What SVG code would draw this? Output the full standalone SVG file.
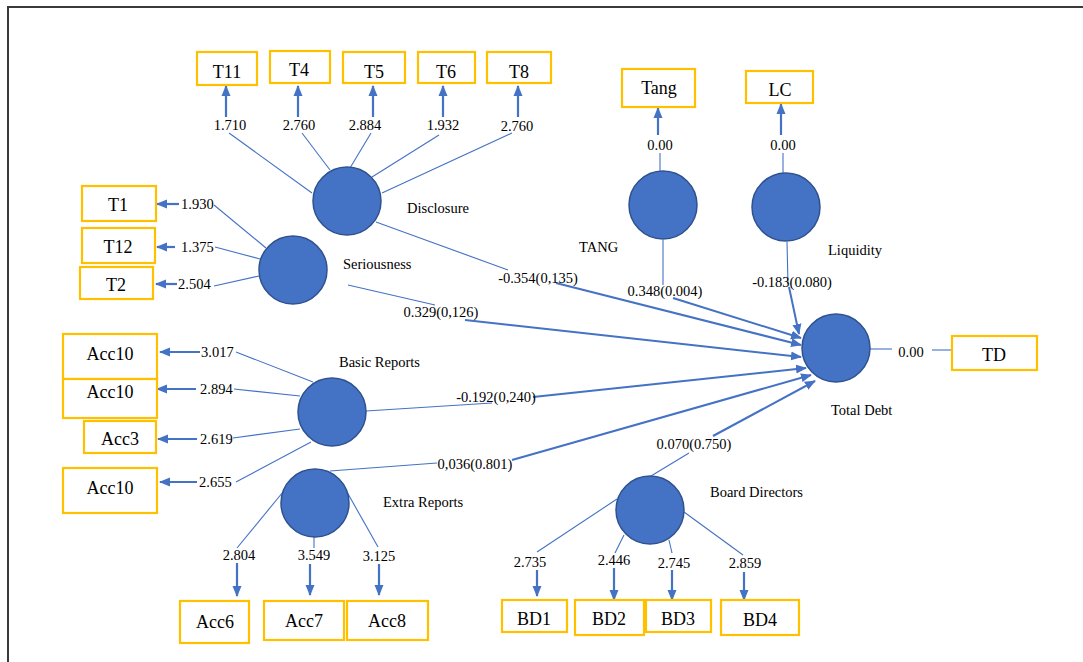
<svg xmlns="http://www.w3.org/2000/svg" width="1083" height="662" viewBox="0 0 1083 662">
<defs>
<marker id="ah" markerUnits="userSpaceOnUse" markerWidth="11" markerHeight="10" refX="10" refY="5" orient="auto">
<path d="M0,0.5 L11,5 L0,9.5 z" fill="#4472C4"/>
</marker>
<style>
.bg{fill:#ffffff}
.frame{stroke:#3a3a3a;stroke-width:2;fill:none}
.lv{fill:#4472C4;stroke:#2F528F;stroke-width:1.5}
.box{fill:#ffffff;stroke:#FFC000;stroke-width:2.2}
.bt{font-family:"Liberation Serif","Times New Roman",serif;font-size:18px;fill:#000;text-anchor:middle}
.nl{font-family:"Liberation Serif","Times New Roman",serif;font-size:14.5px;fill:#000}
.lb{font-family:"Liberation Serif","Times New Roman",serif;font-size:14.5px;fill:#000;text-anchor:middle}
.thin{stroke:#4472C4;stroke-width:1.1;fill:none}
.thick{stroke:#4472C4;stroke-width:2;fill:none;marker-end:url(#ah)}
.ind{stroke:#4472C4;stroke-width:2.2;fill:none;marker-end:url(#ah)}
</style>
</defs>
<rect class="bg" x="0" y="0" width="1083" height="662"/>
<path class="frame" d="M8,662 L8,7 L1083,7"/>

<g id="connectors">
<!-- Disclosure indicators -->
<line class="ind" x1="226" y1="117" x2="226" y2="86"/>
<line class="ind" x1="298" y1="117" x2="298" y2="86"/>
<line class="ind" x1="373" y1="117" x2="373" y2="86"/>
<line class="ind" x1="443" y1="117" x2="443" y2="86"/>
<line class="ind" x1="518" y1="117" x2="518" y2="86"/>
<line class="thin" x1="229" y1="133" x2="312" y2="193"/>
<line class="thin" x1="302" y1="133" x2="330" y2="170"/>
<line class="thin" x1="371" y1="133" x2="350" y2="168"/>
<line class="thin" x1="439" y1="135" x2="372" y2="177"/>
<line class="thin" x1="512" y1="133" x2="382" y2="193"/>
<!-- Seriousness indicators -->
<line class="ind" x1="179" y1="204" x2="157" y2="204"/>
<line class="ind" x1="175" y1="247" x2="157" y2="247"/>
<line class="ind" x1="177" y1="284" x2="156" y2="284"/>
<line class="thin" x1="214" y1="205" x2="266" y2="248"/>
<line class="thin" x1="215" y1="247" x2="260" y2="259"/>
<line class="thin" x1="214" y1="286" x2="259" y2="276"/>
<!-- Basic reports indicators -->
<line class="ind" x1="200" y1="352" x2="160" y2="352"/>
<line class="ind" x1="196" y1="389" x2="157" y2="389"/>
<line class="ind" x1="197" y1="439" x2="158" y2="439"/>
<line class="ind" x1="197" y1="482" x2="160" y2="482"/>
<line class="thin" x1="236" y1="352" x2="313" y2="382"/>
<line class="thin" x1="234" y1="389" x2="300" y2="396"/>
<line class="thin" x1="233" y1="438" x2="300" y2="429"/>
<line class="thin" x1="236" y1="482" x2="311" y2="442"/>
<!-- Extra reports indicators -->
<line class="thin" x1="283" y1="492" x2="237" y2="548"/>
<line class="thin" x1="314" y1="537" x2="314" y2="548"/>
<line class="thin" x1="347" y1="492" x2="378" y2="547"/>
<line class="ind" x1="237" y1="563" x2="237" y2="596"/>
<line class="ind" x1="310" y1="564" x2="310" y2="595"/>
<line class="ind" x1="379" y1="564" x2="379" y2="595"/>
<!-- Board indicators -->
<line class="thin" x1="537" y1="552" x2="617" y2="499"/>
<line class="thin" x1="615" y1="553" x2="624" y2="535"/>
<line class="thin" x1="672" y1="553" x2="669" y2="540"/>
<line class="thin" x1="743" y1="555" x2="684" y2="512"/>
<line class="ind" x1="537" y1="570" x2="537" y2="596"/>
<line class="ind" x1="614" y1="568" x2="614" y2="600"/>
<line class="ind" x1="672" y1="570" x2="672" y2="600"/>
<line class="ind" x1="744" y1="572" x2="744" y2="600"/>
<!-- Tang / LC -->
<line class="ind" x1="658" y1="135" x2="658" y2="108"/>
<line class="thin" x1="660" y1="153" x2="660" y2="172"/>
<line class="ind" x1="781" y1="135" x2="781" y2="104"/>
<line class="thin" x1="783" y1="153" x2="783" y2="173"/>
<!-- TD -->
<line class="thin" x1="870" y1="349" x2="892" y2="349"/>
<line class="thin" x1="932" y1="350" x2="952" y2="350"/>
<!-- structural paths -->
<line class="thin" x1="376" y1="222" x2="508" y2="270"/>
<line class="thick" x1="556" y1="283" x2="801" y2="345"/>
<line class="thin" x1="348" y1="285" x2="435" y2="305"/>
<line class="thick" x1="465" y1="320" x2="801" y2="357"/>
<line class="thin" x1="663" y1="240" x2="663" y2="285"/>
<line class="thick" x1="673" y1="298" x2="801" y2="338"/>
<line class="thin" x1="787" y1="242" x2="788" y2="284"/>
<line class="thick" x1="789" y1="287" x2="799" y2="334"/>
<line class="thin" x1="366" y1="411" x2="492" y2="403"/>
<line class="thick" x1="533" y1="397" x2="806" y2="368"/>
<line class="thin" x1="330" y1="471" x2="437" y2="463"/>
<line class="thick" x1="512" y1="460" x2="811" y2="375"/>
<line class="thin" x1="651" y1="476" x2="689" y2="453"/>
<line class="thick" x1="713" y1="436" x2="815" y2="381"/>
<!-- labels -->
<text class="lb" x="230" y="130">1.710</text>
<text class="lb" x="299" y="130">2.760</text>
<text class="lb" x="365" y="130">2.884</text>
<text class="lb" x="443" y="130">1.932</text>
<text class="lb" x="517" y="131">2.760</text>
<text class="nl" x="181" y="209">1.930</text>
<text class="nl" x="181" y="252">1.375</text>
<text class="nl" x="178" y="289">2.504</text>
<text class="nl" x="201" y="357">3.017</text>
<text class="nl" x="200" y="394">2.894</text>
<text class="nl" x="200" y="444">2.619</text>
<text class="nl" x="199" y="487">2.655</text>
<text class="lb" x="239" y="560">2.804</text>
<text class="lb" x="314" y="560">3.549</text>
<text class="lb" x="379" y="561">3.125</text>
<text class="lb" x="530" y="567">2.735</text>
<text class="lb" x="614" y="565">2.446</text>
<text class="lb" x="674" y="568">2.745</text>
<text class="lb" x="745" y="568">2.859</text>
<text class="lb" x="660" y="150">0.00</text>
<text class="lb" x="783" y="150">0.00</text>
<text class="lb" x="911" y="357">0.00</text>
<text class="lb" x="538" y="283">-0.354(0,135)</text>
<text class="lb" x="441" y="317">0.329(0,126)</text>
<text class="lb" x="665" y="296">0.348(0.004)</text>
<text class="lb" x="792" y="287">-0.183(0.080)</text>
<text class="lb" x="496" y="402">-0.192(0,240)</text>
<text class="lb" x="475" y="469">0,036(0.801)</text>
<text class="lb" x="694" y="449">0.070(0.750)</text>
</g>

<g id="node-disclosure">
<circle class="lv" cx="347" cy="201" r="34"/>
<text class="nl" x="407" y="213">Disclosure</text>
</g>
<g id="node-seriousness">
<circle class="lv" cx="293" cy="270" r="34"/>
<text class="nl" x="343" y="269">Seriousness</text>
</g>
<g id="node-tang">
<circle class="lv" cx="663" cy="205" r="34"/>
<text class="nl" x="579" y="252">TANG</text>
</g>
<g id="node-liquidity">
<circle class="lv" cx="786" cy="207" r="34"/>
<text class="nl" x="828" y="255">Liquidity</text>
</g>
<g id="node-totaldebt">
<circle class="lv" cx="836" cy="348" r="34"/>
<text class="nl" x="831" y="415">Total Debt</text>
</g>
<g id="node-basic">
<circle class="lv" cx="332" cy="412" r="34"/>
<text class="nl" x="339" y="367">Basic Reports</text>
</g>
<g id="node-extra">
<circle class="lv" cx="315" cy="503" r="34"/>
<text class="nl" x="383" y="507">Extra Reports</text>
</g>
<g id="node-board">
<circle class="lv" cx="650" cy="510" r="34"/>
<text class="nl" x="710" y="497">Board Directors</text>
</g>

<g id="box-T11"><rect class="box" x="197" y="52" width="60" height="33"/><text class="bt" x="227" y="78">T11</text></g>
<g id="box-T4"><rect class="box" x="270" y="51" width="60" height="32"/><text class="bt" x="299" y="76">T4</text></g>
<g id="box-T5"><rect class="box" x="343" y="52" width="62" height="31"/><text class="bt" x="374" y="78">T5</text></g>
<g id="box-T6"><rect class="box" x="418" y="52" width="57" height="31"/><text class="bt" x="446" y="78">T6</text></g>
<g id="box-T8"><rect class="box" x="487" y="52" width="64" height="31"/><text class="bt" x="519" y="78">T8</text></g>
<g id="box-Tang"><rect class="box" x="622" y="69" width="73" height="38"/><text class="bt" x="659" y="94">Tang</text></g>
<g id="box-LC"><rect class="box" x="746" y="71" width="67" height="32"/><text class="bt" x="780" y="96">LC</text></g>
<g id="box-T1"><rect class="box" x="82" y="186" width="74" height="35"/><text class="bt" x="118" y="211">T1</text></g>
<g id="box-T12"><rect class="box" x="82" y="228" width="73" height="35"/><text class="bt" x="118" y="253">T12</text></g>
<g id="box-T2"><rect class="box" x="80" y="267" width="73" height="32"/><text class="bt" x="116" y="291">T2</text></g>
<g id="box-Acc10a"><rect class="box" x="63" y="334" width="94" height="45"/><text class="bt" x="110" y="360">Acc10</text></g>
<g id="box-Acc10b"><rect class="box" x="63" y="379" width="94" height="39"/><text class="bt" x="110" y="398">Acc10</text></g>
<g id="box-Acc3"><rect class="box" x="84" y="421" width="72" height="32"/><text class="bt" x="120" y="445">Acc3</text></g>
<g id="box-Acc10c"><rect class="box" x="63" y="468" width="94" height="45"/><text class="bt" x="110" y="494">Acc10</text></g>
<g id="box-TD"><rect class="box" x="952" y="336" width="85" height="34"/><text class="bt" x="994" y="361">TD</text></g>
<g id="box-Acc6"><rect class="box" x="180" y="601" width="69" height="42"/><text class="bt" x="215" y="628">Acc6</text></g>
<g id="box-Acc7"><rect class="box" x="264" y="601" width="80" height="39"/><text class="bt" x="304" y="627">Acc7</text></g>
<g id="box-Acc8"><rect class="box" x="347" y="601" width="81" height="39"/><text class="bt" x="387" y="627">Acc8</text></g>
<g id="box-BD1"><rect class="box" x="502" y="600" width="65" height="32"/><text class="bt" x="534" y="625">BD1</text></g>
<g id="box-BD2"><rect class="box" x="575" y="600" width="69" height="35"/><text class="bt" x="609" y="625">BD2</text></g>
<g id="box-BD3"><rect class="box" x="646" y="600" width="65" height="32"/><text class="bt" x="678" y="625">BD3</text></g>
<g id="box-BD4"><rect class="box" x="721" y="600" width="78" height="35"/><text class="bt" x="760" y="626">BD4</text></g>
</svg>
